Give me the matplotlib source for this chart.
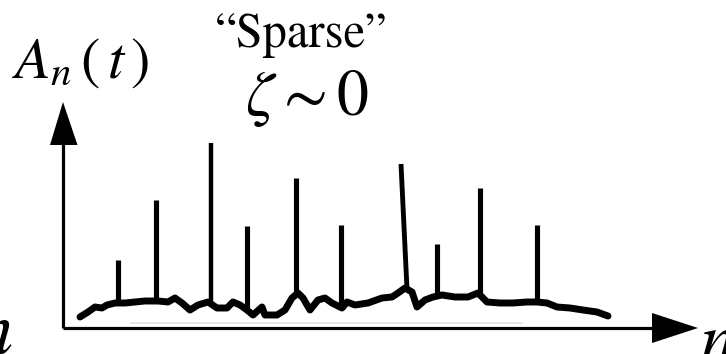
import matplotlib
matplotlib.use("Agg")
import matplotlib.pyplot as plt
import numpy as np

plt.rcParams['mathtext.fontset'] = 'stix'

# Noisy background trace A_n(t) along n
baseline_n = [3.4, 5.0, 6.4, 7.8, 8.8, 10.4, 12.4, 14.4, 16.4, 19.0, 21.0, 22.4, 23.8,
              25.4, 27.0, 29.0, 30.8, 32.8, 34.0, 35.4, 36.8, 38.0, 39.8, 40.4, 42.8,
              44.4, 45.8, 47.0, 48.0, 49.4, 51.0, 52.4, 53.8, 55.8, 56.8, 58.4, 61.0,
              63.8, 65.8, 67.0, 68.4, 69.8, 70.8, 72.4, 74.0, 75.8, 78.4, 81.0, 83.0,
              84.8, 87.4, 90.0, 92.8, 94.8, 96.8, 98.8, 101.4, 104.0, 106.8, 109.0]
baseline_A = [0.055, 0.08, 0.105, 0.10, 0.115, 0.125, 0.125, 0.13, 0.135, 0.135, 0.13,
              0.15, 0.125, 0.09, 0.115, 0.13, 0.10, 0.10, 0.13, 0.115, 0.09, 0.065,
              0.105, 0.065, 0.065, 0.09, 0.15, 0.175, 0.15, 0.09, 0.14, 0.15, 0.125,
              0.10, 0.13, 0.115, 0.125, 0.15, 0.155, 0.175, 0.20, 0.18, 0.105, 0.14,
              0.155, 0.165, 0.155, 0.155, 0.175, 0.13, 0.125, 0.125, 0.13, 0.13, 0.125,
              0.105, 0.10, 0.09, 0.08, 0.06]

# Sparse spikes
spike_n = [11.0, 18.6, 29.6, 36.8, 46.6, 55.6, 68.8, 74.8, 83.4, 94.8]
spike_top_n = [11.0, 18.6, 29.6, 36.8, 46.6, 55.6, 67.6, 74.8, 83.4, 94.8]
spike_A = [0.34, 0.64, 0.925, 0.51, 0.75, 0.515, 0.82, 0.42, 0.70, 0.515]
spike_width = [3.7, 3.7, 3.2, 3.7, 3.7, 3.7, 3.5, 3.7, 3.7, 3.7]

# faint grey reference line under the trace
grey_n = [13.4, 92.0]
grey_A = [0.025, 0.025]

fig = plt.figure(figsize=(7.26, 3.54), dpi=100)
ax = fig.add_axes([0, 0, 1, 1])
ax.set_xlim(-12.6, 132.6)
ax.set_ylim(-0.13, 1.64)
ax.axis('off')

ax.plot(grey_n, grey_A, color='#e2e2e2', lw=1.2, solid_capstyle='butt')

# axes lines
ax.plot([0, 0], [0, 0.95], color='black', lw=2.3, solid_capstyle='butt')
ax.plot([0, 119], [0, 0], color='black', lw=2.3, solid_capstyle='butt')
# arrow heads
ax.fill([-2.6, 0, 2.9], [0.915, 1.13, 0.915], color='black', lw=0)
ax.fill([117.8, 127.0, 117.8], [0.075, 0.0, -0.075], color='black', lw=0)

# trace
base_at_spike = np.interp(spike_n, baseline_n, baseline_A)
for bn, tn, a, b, w in zip(spike_n, spike_top_n, spike_A, base_at_spike, spike_width):
    ax.plot([bn, tn], [b, a], color='black', lw=w, solid_capstyle='butt')
ax.plot(baseline_n, baseline_A, color='black', lw=5.0,
        solid_joinstyle='round', solid_capstyle='round')

# texts
ax.text(3.6, 1.25, r'$A_n\,(\,t\,)$', fontsize=42, ha='center', va='baseline')
ax.text(47.6, 1.405, '\u201cSparse\u201d', fontsize=35, family='STIXGeneral',
        ha='center', va='baseline')
ax.text(48.8, 1.065, r'$\zeta\sim0$', fontsize=46, ha='center', va='baseline')
ax.text(-12.6 - 5.0, -0.125, r'$n$', fontsize=54, ha='left', va='baseline')
ax.text(127.4, -0.165, r'$n$', fontsize=50, ha='left', va='baseline')

fig.savefig('out.png', dpi=100)
